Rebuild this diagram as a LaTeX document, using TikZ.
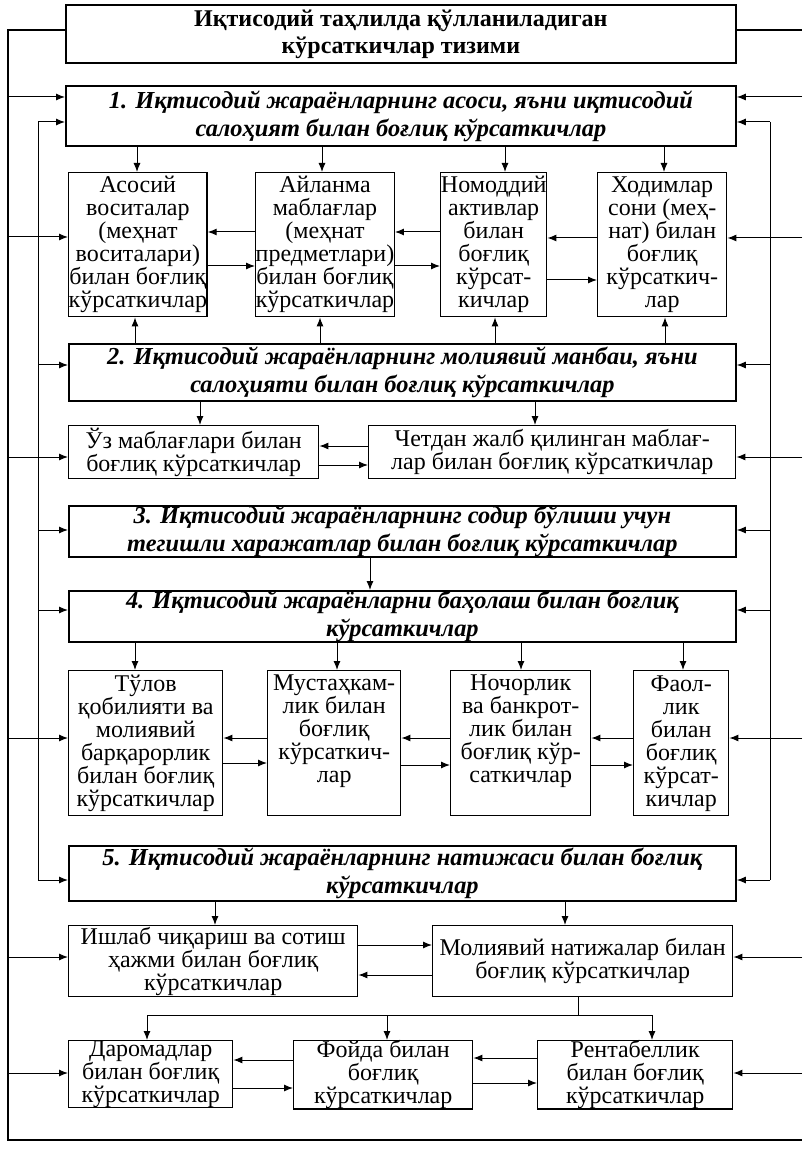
\documentclass[tikz,border=0pt]{standalone}
\usepackage{fontspec}
\setmainfont{Liberation Serif}
\usetikzlibrary{arrows.meta}
\newcommand\mybox[7]{\node[#6,anchor=north west,minimum width={(#4-#2)*0.5pt},minimum height={(#5-#3)*0.5pt}] (#1) at (#2,#3) {#7};}
\begin{document}
\begin{tikzpicture}[x=0.5pt,y=-0.5pt,
 box/.style={draw,line width=0.7pt,inner sep=0pt,align=center,font=\fontsize{12}{11.5}\selectfont},
 hbox/.style={box,line width=0.9pt,font=\fontsize{12.2}{14}\selectfont\bfseries\itshape},
 tbox/.style={box,line width=0.9pt,font=\fontsize{12}{13.5}\selectfont\bfseries},
 arr/.style={-{Latex[length=4.5pt,width=3.5pt]},line width=0.5pt},
 ln/.style={line width=0.5pt},
 frame/.style={line width=1.3pt}]
\useasboundingbox (0,0) rectangle (802,1149);
% boxes
\mybox{t}{65}{4}{735}{62}{tbox}{Иқтисодий таҳлилда қўлланиладиган\\кўрсаткичлар тизими}
\mybox{b1}{65}{85}{735}{145}{hbox}{1. Иқтисодий жараёнларнинг асоси, яъни иқтисодий\\салоҳият билан боғлиқ кўрсаткичлар}
\mybox{a1}{68}{172}{206}{316}{box}{Асосий\\воситалар\\(меҳнат\\воситалари)\\билан боғлиқ\\кўрсаткичлар}
\mybox{a2}{255}{172}{391}{316}{box}{Айланма\\маблағлар\\(меҳнат\\предметлари)\\билан боғлиқ\\кўрсаткичлар}
\mybox{a3}{440}{172}{546}{316}{box}{Номоддий\\активлар\\билан\\боғлиқ\\кўрсат-\\кичлар}
\mybox{a4}{597}{172}{726}{316}{box}{Ходимлар\\сони (меҳ-\\нат) билан\\боғлиқ\\кўрсаткич-\\лар}
\mybox{b2}{68}{343}{735}{400}{hbox}{2. Иқтисодий жараёнларнинг молиявий манбаи, яъни\\салоҳияти билан боғлиқ кўрсаткичлар}
\mybox{u1}{68}{425}{318}{478}{box}{Ўз маблағлари билан\\боғлиқ кўрсаткичлар}
\mybox{u2}{368}{425}{735}{478}{box}{Четдан жалб қилинган маблағ-\\лар билан боғлиқ кўрсаткичлар}
\mybox{b3}{68}{505}{735}{556}{hbox}{3. Иқтисодий жараёнларнинг содир бўлиши учун\\тегишли харажатлар билан боғлиқ кўрсаткичлар}
\mybox{b4}{68}{590}{735}{641}{hbox}{4. Иқтисодий жараёнларни баҳолаш билан боғлиқ\\кўрсаткичлар}
\mybox{c1}{68}{670}{222}{815}{box}{Тўлов\\қобилияти ва\\молиявий\\барқарорлик\\билан боғлиқ\\кўрсаткичлар}
\mybox{c2}{267}{670}{400}{815}{box}{Мустаҳкам-\\лик билан\\боғлиқ\\кўрсаткич-\\лар\\\strut}
\mybox{c3}{450}{670}{590}{815}{box}{Ночорлик\\ва банкрот-\\лик билан\\боғлиқ кўр-\\саткичлар\\\strut}
\mybox{c4}{633}{670}{728}{815}{box}{Фаол-\\лик\\билан\\боғлиқ\\кўрсат-\\кичлар}
\mybox{b5}{68}{845}{735}{900}{hbox}{5. Иқтисодий жараёнларнинг натижаси билан боғлиқ\\кўрсаткичлар}
\mybox{d1}{68}{925}{357}{996}{box}{Ишлаб чиқариш ва сотиш\\ҳажми билан боғлиқ\\кўрсаткичлар}
\mybox{d2}{432}{925}{732}{996}{box}{Молиявий натижалар билан\\боғлиқ кўрсаткичлар}
\mybox{e1}{68}{1040}{232}{1106}{box}{Даромадлар\\билан боғлиқ\\кўрсаткичлар}
\mybox{e2}{293}{1040}{472}{1106}{box}{Фойда билан\\боғлиқ\\кўрсаткичлар}
\mybox{e3}{537}{1040}{732}{1106}{box}{Рентабеллик\\билан боғлиқ\\кўрсаткичлар}
% outer frame
\coordinate (fl) at (8,30);
\coordinate (fb) at (8,1140);
\coordinate (fr) at (802,1140);
\coordinate (fr0) at (802,30);
\draw[frame] (t.west |- fl) -- (fl) -- (fb) -- (fr);
\draw[frame] (t.east |- fr0) -- (fr0);
% inner lines
\coordinate (il1) at (38,122);
\coordinate (il2) at (38,880);
\coordinate (ir1) at (770,122);
\coordinate (ir2) at (770,880);
\draw[ln] (il1) -- (il2);
\draw[ln] (ir1) -- (ir2);
\foreach \yy/\nn in {122/b1,365/b2,530/b3,610/b4,880/b5}{
  \draw[arr] (38,\yy) -- (\nn.west |- 0,\yy);
  \draw[arr] (770,\yy) -- (\nn.east |- 0,\yy);
}
% outer arrows
\foreach \yy/\nn in {97/b1,237/a1,457/u1,738/c1,957/d1,1073/e1}
  \draw[arr] (8,\yy) -- (\nn.west |- 0,\yy);
\foreach \yy/\nn in {97/b1,238/a4,457/u2,738/c4,957/d2,1073/e3}
  \draw[arr] (802,\yy) -- (\nn.east |- 0,\yy);
% block 1
\foreach \xx/\nn in {137/a1,322/a2,505/a3,664/a4}
  \draw[arr] (b1.south -| \xx,0) -- (\nn.north -| \xx,0);
\foreach \xx/\nn in {135/a1,320/a2,495/a3,665/a4}
  \draw[arr] (b2.north -| \xx,0) -- (\nn.south -| \xx,0);
\draw[arr] (a2.west |- 0,232) -- (a1.east |- 0,232);
\draw[arr] (a1.east |- 0,266) -- (a2.west |- 0,266);
\draw[arr] (a3.west |- 0,232) -- (a2.east |- 0,232);
\draw[arr] (a2.east |- 0,266) -- (a3.west |- 0,266);
\draw[arr] (a4.west |- 0,238) -- (a3.east |- 0,238);
\draw[arr] (a3.east |- 0,280) -- (a4.west |- 0,280);
% block 2
\draw[arr] (b2.south -| 200,0) -- (u1.north -| 200,0);
\draw[arr] (b2.south -| 535,0) -- (u2.north -| 535,0);
\draw[arr] (u2.west |- 0,446) -- (u1.east |- 0,446);
\draw[arr] (u1.east |- 0,465) -- (u2.west |- 0,465);
% block 3-4
\draw[arr] (b3.south -| 370,0) -- (b4.north -| 370,0);
\foreach \xx/\nn in {135/c1,337/c2,521/c3,683/c4}
  \draw[arr] (b4.south -| \xx,0) -- (\nn.north -| \xx,0);
\draw[arr] (c2.west |- 0,738) -- (c1.east |- 0,738);
\draw[arr] (c1.east |- 0,763) -- (c2.west |- 0,763);
\draw[arr] (c3.west |- 0,738) -- (c2.east |- 0,738);
\draw[arr] (c2.east |- 0,765) -- (c3.west |- 0,765);
\draw[arr] (c4.west |- 0,738) -- (c3.east |- 0,738);
\draw[arr] (c3.east |- 0,765) -- (c4.west |- 0,765);
% block 5
\draw[arr] (b5.south -| 215,0) -- (d1.north -| 215,0);
\draw[arr] (b5.south -| 565,0) -- (d2.north -| 565,0);
\draw[arr] (d1.east |- 0,945) -- (d2.west |- 0,945);
\draw[arr] (d2.west |- 0,975) -- (d1.east |- 0,975);
\coordinate (j) at (578,1015);
\coordinate (jl) at (147,1015);
\coordinate (jr) at (652,1015);
\draw[ln] (d2.south -| j) -- (j);
\draw[ln] (jl) -- (jr);
\foreach \xx/\nn in {147/e1,387/e2,652/e3}
  \draw[arr] (\xx,1015) -- (\nn.north -| \xx,0);
\draw[arr] (e2.west |- 0,1060) -- (e1.east |- 0,1060);
\draw[arr] (e1.east |- 0,1088) -- (e2.west |- 0,1088);
\draw[arr] (e3.west |- 0,1058) -- (e2.east |- 0,1058);
\draw[arr] (e2.east |- 0,1083) -- (e3.west |- 0,1083);
\end{tikzpicture}
\end{document}
